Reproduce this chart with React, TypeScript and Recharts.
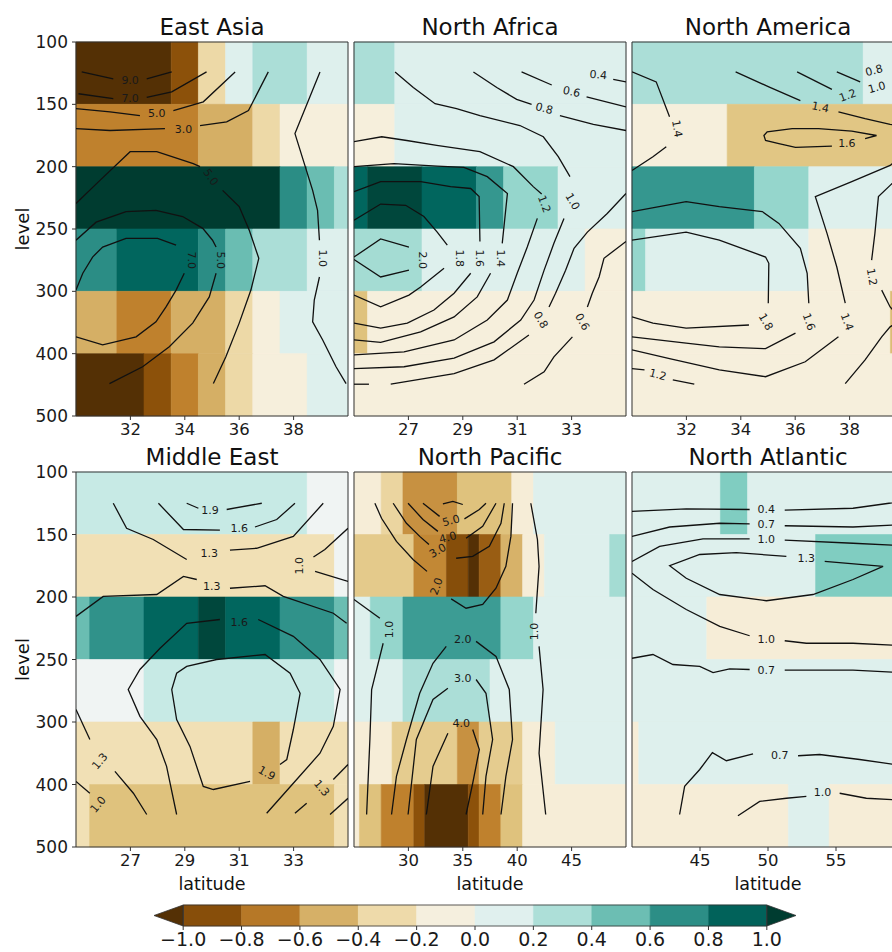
import React from 'react';
import { ComposedChart, XAxis, YAxis, ReferenceArea, Line, Scatter } from 'recharts';

const FONT = "'DejaVu Sans', 'Liberation Sans', sans-serif";

// pressure levels, drawn as equally spaced rows (index 0..6)
const levels = [100, 150, 200, 250, 300, 400, 500];
const levelIdx = [0, 1, 2, 3, 4, 5, 6];

// colorbar bounds
const cbarBounds = [-1.0, -0.8, -0.6, -0.4, -0.2, 0.0, 0.2, 0.4, 0.6, 0.8, 1.0];

// BrBG anchors
const brbgStops = ['#543005', '#8c510a', '#bf812d', '#dfc27d', '#f6e8c3', '#f5f5f5', '#c7eae5', '#80cdc1', '#35978f', '#01665e', '#003c30'];

// ---------- East Asia ----------
const eastAsiaLats = [30, 31, 32, 33, 34, 35, 36, 37, 38, 39, 40];
const eastAsiaCells = [
  [-1, -1, -1, -1, -0.8, -0.28, 0.1, 0.28, 0.28, 0.1, 0.1],
  [-0.6, -0.6, -0.6, -0.6, -0.6, -0.46, -0.46, -0.28, -0.1, -0.1, -0.1],
  [1, 1, 1, 1, 1, 1, 1, 1, 0.64, 0.46, 0.28],
  [0.64, 0.64, 0.8, 0.8, 0.8, 0.64, 0.46, 0.28, 0.28, 0.1, 0.1],
  [-0.46, -0.46, -0.6, -0.6, -0.46, -0.46, -0.28, -0.1, 0.1, 0.1, 0.1],
  [-1, -1, -1, -0.8, -0.6, -0.46, -0.28, -0.1, -0.1, 0.1, 0.1],
];
const eastAsiaLines = [
  [[30.21, 0.48], [31.37, 0.59]], [[32.6, 0.59], [33.52, 0.48]],
  [[30.09, 0.83], [31.37, 0.91]], [[32.6, 0.89], [33.52, 0.8], [34.8, 0.48]],
  [[30, 1.07], [31.25, 1.12], [32.35, 1.18]], [[33.58, 1.1], [34.68, 0.96], [35.85, 0.48]],
  [[30, 1.39], [31.25, 1.42], [33.27, 1.39]], [[34.56, 1.34], [35.54, 1.28], [36.34, 1.1], [37.07, 0.48]],
  [[30, 2.59], [30.88, 2.22], [31.99, 1.76], [32.97, 1.76], [34.31, 1.95], [34.56, 2.0]],
  [[35.39, 2.38], [36.0, 2.64], [36.37, 3.02], [36.72, 3.47], [36.43, 3.98], [36.0, 4.51], [35.51, 5.05], [35.05, 5.48]],
  [[30, 3.18], [30.74, 2.89], [31.84, 2.72], [32.94, 2.7], [33.92, 2.8], [34.66, 2.99], [35.02, 3.18], [35.15, 3.29]],
  [[35.15, 3.71], [34.9, 4.09], [34.29, 4.51], [33.43, 4.89], [32.45, 5.21], [31.23, 5.48]],
  [[30, 3.98], [30.25, 3.71], [30.61, 3.45], [30.98, 3.29], [31.84, 3.15], [33.0, 3.15], [33.68, 3.26]],
  [[33.98, 3.71], [33.68, 3.98], [33.31, 4.25], [32.94, 4.49], [32.21, 4.73], [30.98, 4.86], [30, 4.73]],
  [[38.97, 0.48], [38.05, 1.47], [38.7, 2.38], [38.88, 2.7], [38.95, 3.18]],
  [[38.95, 3.77], [38.76, 4.14], [38.7, 4.49], [39.07, 4.78], [39.56, 5.21], [39.93, 5.48]],
];
const eastAsiaLabels = [
  [31.99, 0.61, '9.0', 0], [31.99, 0.9, '7.0', 0], [32.97, 1.15, '5.0', 0], [33.95, 1.4, '3.0', 0],
  [34.95, 2.17, '5.0', 55], [35.33, 3.5, '5.0', 90], [34.23, 3.5, '7.0', 90], [39.07, 3.47, '1.0', 90],
];

// ---------- North Africa ----------
const northAfricaLats = [25, 26, 27, 28, 29, 30, 31, 32, 33, 34, 35];
const northAfricaCells = [
  [0.28, 0.28, 0.1, 0.1, 0.1, 0.1, 0.1, 0.1, 0.1, 0.1, 0.1],
  [-0.1, -0.1, 0.1, 0.1, 0.1, 0.1, 0.1, 0.1, 0.1, 0.1, 0.1],
  [0.8, 0.95, 0.95, 0.8, 0.8, 0.6, 0.34, 0.34, 0.1, 0.1, 0.1],
  [0.3, 0.3, 0.3, 0.1, 0.1, 0.1, 0.1, 0.1, 0.1, -0.1, -0.1],
  [-0.4, -0.1, -0.1, -0.1, -0.1, -0.1, -0.1, -0.1, -0.1, -0.1, -0.1],
  [-0.1, -0.1, -0.1, -0.1, -0.1, -0.1, -0.1, -0.1, -0.1, -0.1, -0.1],
];
const northAfricaLines = [
  [[25, 3.45], [25.98, 3.16], [27.02, 3.29]], [[27.02, 3.66], [25.98, 3.77], [25, 3.49]],
  [[25, 2.86], [25.98, 2.6], [26.9, 2.62], [27.57, 2.8], [28.06, 3.05], [28.43, 3.26]],
  [[28.31, 3.63], [27.45, 3.93], [27.02, 4.06], [25.98, 4.25], [25, 4.06]],
  [[25, 2.4], [25.98, 2.24], [27.45, 2.24], [28.55, 2.32], [29.29, 2.35], [29.6, 2.48], [29.63, 3.2]],
  [[29.29, 3.71], [28.68, 4.03], [27.94, 4.3], [26.96, 4.51], [25.98, 4.59], [25, 4.51]],
  [[25, 2.0], [26.47, 1.95], [28.06, 1.99], [29.04, 2.01], [29.9, 2.16], [30.64, 2.43], [30.45, 3.23]],
  [[30.02, 3.71], [29.53, 4.09], [28.68, 4.41], [27.45, 4.65], [25.98, 4.82], [25, 4.78]],
  [[25, 1.6], [26.02, 1.52], [26.94, 1.58], [28.04, 1.66], [29.63, 1.76], [30.86, 2.0], [31.59, 2.32], [31.9, 2.44]],
  [[31.74, 2.83], [31.37, 3.29], [31.0, 3.71], [30.64, 4.14], [29.9, 4.46], [28.68, 4.78], [26.84, 4.97], [25, 5.02]],
  [[26.51, 0.48], [27.18, 0.73], [27.98, 0.99], [28.77, 1.07], [29.63, 1.18], [31.1, 1.34], [31.96, 1.52], [32.51, 1.84], [32.94, 2.16]],
  [[32.72, 2.83], [32.35, 3.23], [31.99, 3.66], [31.62, 4.14], [31.13, 4.46], [30.15, 4.81], [28.68, 5.07], [26.84, 5.21], [25, 5.24]],
  [[35, 2.43], [34.31, 2.75], [33.58, 3.05], [33.09, 3.31], [32.78, 3.66], [32.41, 4.03], [32.17, 4.25]],
  [[31.43, 4.7], [30.15, 5.1], [28.68, 5.32], [26.35, 5.49]], [[25.55, 5.49], [25, 5.49]],
  [[35, 3.2], [34.19, 3.47], [34.01, 3.77], [33.76, 4.03], [33.58, 4.25]],
  [[33.03, 4.73], [32.35, 5.05], [31.99, 5.29], [31.25, 5.49]],
  [[29.39, 0.48], [30.25, 0.73], [30.98, 0.92], [31.53, 1.0]], [[32.57, 1.18], [33.8, 1.32], [35, 1.42]],
  [[31.16, 0.48], [32.27, 0.69]], [[33.55, 0.88], [35, 1.04]],
  [[34.53, 0.6], [35, 0.64]],
];
const northAfricaLabels = [
  [27.51, 3.5, '2.0', 90], [28.86, 3.47, '1.8', 90], [29.63, 3.47, '1.6', 90], [30.39, 3.47, '1.4', 90],
  [31.99, 2.6, '1.2', 70], [33.03, 2.56, '1.0', 60], [31.86, 4.46, '0.8', 60], [33.39, 4.49, '0.6', 60],
  [31.99, 1.07, '0.8', 15], [33.0, 0.8, '0.6', 12], [33.98, 0.53, '0.4', 5],
];

// ---------- North America ----------
const northAmericaLats = [30, 31, 32, 33, 34, 35, 36, 37, 38, 39, 40];
const northAmericaCells = [
  [0.28, 0.28, 0.28, 0.28, 0.28, 0.28, 0.28, 0.28, 0.28, 0.1, 0.1],
  [-0.1, -0.1, -0.1, -0.1, -0.38, -0.38, -0.38, -0.38, -0.38, -0.38, -0.38],
  [0.6, 0.6, 0.6, 0.6, 0.6, 0.34, 0.34, 0.1, 0.1, 0.1, 0.1],
  [0.34, 0.1, 0.1, 0.1, 0.1, 0.1, 0.1, -0.1, -0.1, -0.1, -0.1],
  [-0.1, -0.1, -0.1, -0.1, -0.1, -0.1, -0.1, -0.1, -0.1, -0.1, -0.42],
  [-0.1, -0.1, -0.1, -0.1, -0.1, -0.1, -0.1, -0.1, -0.1, -0.1, -0.1],
];
const northAmericaLines = [
  [[30, 3.18], [31.99, 3.05], [33.21, 3.18], [34.91, 3.45], [35.03, 3.55], [35.01, 4.19]],
  [[34.3, 4.54], [31.99, 4.59], [30.77, 4.51], [30, 4.41]],
  [[30, 2.72], [31.99, 2.56], [33.21, 2.64], [34.79, 2.72], [35.4, 2.91], [36.19, 3.31], [36.44, 3.71], [36.5, 4.19]],
  [[36.01, 4.67], [34.91, 4.92], [33.21, 4.89], [31.99, 4.83], [30, 4.73]],
  [[40, 1.8], [39.49, 1.98], [38.08, 2.24], [36.74, 2.48], [37.17, 3.07], [37.53, 3.61], [37.84, 4.19]],
  [[37.59, 4.73], [36.37, 5.13], [34.91, 5.37], [33.21, 5.26], [31.38, 5.08], [30, 4.94]],
  [[40, 2.1], [39.49, 2.3], [39.06, 2.48], [38.93, 3.07], [38.81, 3.5]],
  [[39.18, 3.98], [39.49, 4.25], [40, 4.5]],
  [[37.84, 5.48], [38.57, 5.1], [39.18, 4.73], [39.49, 4.57], [40, 4.42]],
  [[30, 5.24], [30.46, 5.26]], [[31.5, 5.42], [32.29, 5.49]],
  [[30, 0.48], [30.89, 0.64], [31.38, 1.2]], [[31.26, 1.68], [30.77, 1.84], [30, 2.06]],
  [[38.57, 1.55], [38.99, 1.5], [38.08, 1.43], [36.86, 1.39], [35.89, 1.39], [34.97, 1.44], [34.85, 1.5], [34.91, 1.58], [35.4, 1.63], [36.01, 1.69], [37.35, 1.67]],
  [[33.81, 0.48], [35.03, 0.72], [36.19, 0.94]], [[37.59, 1.12], [38.57, 1.23], [39.49, 1.32], [40, 1.36]],
  [[36.07, 0.48], [37.35, 0.76]],
  [[37.53, 0.48], [38.39, 0.64]],
];
const northAmericaLabels = [
  [34.91, 4.49, '1.8', 60], [36.5, 4.49, '1.6', 70], [37.9, 4.49, '1.4', 70], [38.81, 3.77, '1.2', 80],
  [30.95, 5.34, '1.2', 15], [31.65, 1.39, '1.4', 80], [37.9, 1.63, '1.6', 0], [36.92, 1.05, '1.4', 12],
  [37.93, 0.86, '1.2', -20], [38.9, 0.46, '0.8', -15], [39.0, 0.73, '1.0', -15],
];

// ---------- Middle East ----------
const middleEastLats = [25, 26, 27, 28, 29, 30, 31, 32, 33, 34, 35];
const middleEastCells = [
  [0.2, 0.2, 0.2, 0.2, 0.2, 0.2, 0.2, 0.2, 0.2, 0.02, 0.02],
  [-0.24, -0.24, -0.24, -0.24, -0.24, -0.24, -0.24, -0.24, -0.24, -0.24, 0.02],
  [0.46, 0.62, 0.62, 0.8, 0.8, 0.95, 0.8, 0.8, 0.62, 0.62, 0.46],
  [0.02, 0.02, 0.02, 0.2, 0.2, 0.2, 0.2, 0.2, 0.2, 0.2, 0.02],
  [-0.24, -0.24, -0.24, -0.24, -0.24, -0.24, -0.24, -0.46, -0.24, -0.24, -0.24],
  [-0.24, -0.4, -0.4, -0.4, -0.4, -0.4, -0.4, -0.4, -0.4, -0.4, -0.24],
];
const middleEastLines = [
  [[29.07, 0.5], [29.5, 0.58]], [[30.54, 0.6], [31.83, 0.5]],
  [[28.03, 0.5], [28.95, 0.92], [30.29, 0.93]], [[31.58, 0.88], [32.38, 0.76], [33.05, 0.5]],
  [[26.37, 0.5], [26.86, 0.9], [27.84, 1.08], [29.07, 1.4]], [[30.66, 1.25], [31.64, 1.22], [32.99, 1.03], [34.09, 0.5]],
  [[25, 2.31], [26.0, 1.99], [27.97, 1.96], [28.95, 1.67], [29.44, 1.72]],
  [[30.66, 1.86], [31.95, 1.82], [32.62, 1.99], [34.46, 2.26], [34.95, 2.42]],
  [[35, 0.9], [34.15, 1.24], [33.73, 1.36]], [[33.79, 1.59], [35, 1.75]],
  [[28.7, 5.48], [28.33, 4.71], [27.97, 4.28], [27.35, 3.91], [26.92, 3.48], [27.35, 3.16], [28.09, 2.82], [29.07, 2.42], [30.29, 2.36]],
  [[31.7, 2.36], [32.99, 2.63], [33.97, 3.0], [34.71, 3.48], [34.46, 4.07], [33.97, 4.5], [32.99, 4.98], [32.01, 5.46]],
  [[31.4, 4.95], [30.05, 5.08], [29.68, 5.03], [29.19, 4.39], [28.7, 3.96], [28.52, 3.48], [28.7, 3.22], [29.07, 3.11], [30.17, 3.0], [31.95, 2.92], [32.87, 3.22], [33.24, 3.54], [32.99, 4.12], [32.75, 4.6], [32.5, 4.68]],
  [[25, 3.8], [25.51, 4.28]], [[26.43, 4.79], [27.11, 5.14], [27.6, 5.48]],
  [[25, 4.95], [25.51, 5.14]],
  [[35, 4.68], [34.46, 4.92]], [[33.48, 5.3], [33.05, 5.46]],
  [[35, 5.22], [34.34, 5.48]],
];
const middleEastLabels = [
  [29.93, 0.61, '1.9', 0], [31.0, 0.9, '1.6', 0], [29.9, 1.3, '1.3', 0], [29.99, 1.83, '1.3', 0],
  [33.21, 1.5, '1.0', -90], [31.0, 2.4, '1.6', 0], [32.01, 4.82, '1.9', 30],
  [25.88, 4.63, '1.3', -50], [25.82, 5.32, '1.0', -50], [34.03, 5.06, '1.3', 50],
];

// ---------- North Pacific ----------
const northPacificLats = [25, 26, 27, 28, 29, 30, 31, 32, 33, 34, 35, 36, 37, 38, 39, 40, 41, 42, 43, 44, 45, 46, 47, 48, 49, 50];
const northPacificCells = [
  [-0.12, -0.12, -0.12, -0.3, -0.3, -0.55, -0.55, -0.55, -0.55, -0.55, -0.4, -0.4, -0.4, -0.4, -0.4, -0.12, -0.12, 0.1, 0.1, 0.1, 0.1, 0.1, 0.1, 0.1, 0.1, 0.1],
  [-0.36, -0.36, -0.36, -0.36, -0.36, -0.36, -0.58, -0.58, -0.58, -0.82, -0.82, -1, -0.75, -0.75, -0.45, -0.45, -0.12, -0.12, 0.1, 0.1, 0.1, 0.1, 0.1, 0.1, 0.3, 0.3],
  [0.1, 0.1, 0.34, 0.34, 0.34, 0.58, 0.58, 0.58, 0.58, 0.58, 0.58, 0.58, 0.58, 0.58, 0.34, 0.34, 0.34, 0.1, 0.1, 0.1, 0.1, 0.1, 0.1, 0.1, 0.1, 0.1],
  [0.1, 0.1, 0.1, 0.1, 0.1, 0.28, 0.28, 0.28, 0.28, 0.28, 0.28, 0.28, 0.28, 0.1, 0.1, 0.1, 0.1, 0.1, 0.1, 0.1, 0.1, 0.1, 0.1, 0.1, 0.1, 0.1],
  [-0.12, -0.12, -0.12, -0.12, -0.35, -0.35, -0.35, -0.35, -0.35, -0.35, -0.55, -0.55, -0.35, -0.35, -0.35, -0.35, -0.12, -0.12, -0.12, 0.1, 0.1, 0.1, 0.1, 0.1, 0.1, 0.1],
  [-0.12, -0.4, -0.4, -0.6, -0.6, -0.6, -0.8, -1, -1, -1, -1, -0.8, -0.6, -0.6, -0.4, -0.4, -0.12, -0.12, -0.12, -0.12, -0.12, -0.12, -0.12, -0.12, -0.12, -0.12],
];
const northPacificLines = [
  [[26.92, 0.5], [27.53, 0.74], [28.9, 1.11], [30.43, 1.4], [31.71, 1.59]],
  [[33.93, 2.03], [35.3, 2.18], [36.83, 2.12], [38.05, 1.86], [38.96, 1.51], [39.42, 1.03], [39.57, 0.5]],
  [[28.6, 0.5], [29.82, 0.82], [31.04, 1.03], [31.89, 1.16]], [[34.39, 1.38], [35.91, 1.35], [37.44, 1.19], [38.51, 0.82], [38.81, 0.5]],
  [[29.97, 0.5], [31.34, 0.76], [32.71, 0.95]], [[35.3, 1.06], [36.83, 0.87], [38.05, 0.5]],
  [[31.34, 0.5], [32.87, 0.71]], [[35.15, 0.75], [36.52, 0.6], [37.13, 0.5]],
  [[33.17, 0.51], [34.09, 0.47], [35.0, 0.52]],
  [[41.25, 0.5], [41.86, 1.08], [42.01, 1.51], [41.71, 2.26]], [[42.01, 2.79], [42.38, 3.48], [42.01, 4.5], [42.62, 5.48]],
  [[25, 2.04], [27.38, 2.34]], [[27.68, 2.74], [26.62, 3.48], [26.46, 4.28], [26.16, 5.48]],
  [[28.45, 5.48], [28.9, 4.87], [29.82, 4.28], [31.04, 3.54], [32.26, 3.06], [33.48, 2.79]],
  [[36.22, 2.71], [38.05, 2.95], [39.27, 3.48], [39.57, 4.28], [38.96, 4.87], [38.51, 5.48]],
  [[29.97, 5.48], [30.73, 4.28], [32.26, 3.64], [33.63, 3.46]], [[36.22, 3.32], [37.13, 3.54], [37.74, 4.28], [37.13, 4.87], [36.83, 5.48]],
  [[31.65, 5.48], [32.26, 4.71], [33.63, 4.18]], [[35.91, 4.12], [36.52, 4.44], [35.91, 4.98], [35.3, 5.48]],
];
const northPacificLabels = [
  [32.6, 1.83, '2.0', -70], [32.7, 1.26, '3.0', -30], [33.63, 1.05, '4.0', -15], [33.93, 0.78, '5.0', -15],
  [41.55, 2.55, '1.0', -90], [28.3, 2.52, '1.0', -90], [35.0, 2.68, '2.0', 0], [35.0, 3.3, '3.0', 0], [34.85, 4.02, '4.0', 0],
];

// ---------- North Atlantic ----------
const northAtlanticLats = [40, 41, 42, 43, 44, 45, 46, 47, 48, 49, 50, 51, 52, 53, 54, 55, 56, 57, 58, 59, 60];
const northAtlanticCells = [
  [0.1, 0.1, 0.1, 0.1, 0.1, 0.1, 0.1, 0.4, 0.4, 0.1, 0.1, 0.1, 0.1, 0.1, 0.1, 0.1, 0.1, 0.1, 0.1, 0.1, 0.1],
  [0.1, 0.1, 0.1, 0.1, 0.1, 0.1, 0.1, 0.1, 0.1, 0.1, 0.1, 0.1, 0.1, 0.1, 0.4, 0.4, 0.4, 0.4, 0.4, 0.4, 0.4],
  [0.1, 0.1, 0.1, 0.1, 0.1, 0.1, -0.12, -0.12, -0.12, -0.12, -0.12, -0.12, -0.12, -0.12, -0.12, -0.12, -0.12, -0.12, -0.12, -0.12, -0.12],
  [0.1, 0.1, 0.1, 0.1, 0.1, 0.1, 0.1, 0.1, 0.1, 0.1, 0.1, 0.1, 0.1, 0.1, 0.1, 0.1, 0.1, 0.1, 0.1, 0.1, 0.1],
  [-0.12, 0.1, 0.1, 0.1, 0.1, 0.1, 0.1, 0.1, 0.1, 0.1, 0.1, 0.1, 0.1, 0.1, 0.1, 0.1, 0.1, 0.1, 0.1, 0.1, 0.1],
  [-0.12, -0.12, -0.12, -0.12, -0.12, -0.12, -0.12, -0.12, -0.12, -0.12, -0.12, -0.12, 0.1, 0.1, 0.1, -0.12, -0.12, -0.12, -0.12, -0.12, -0.12],
];
const northAtlanticLines = [
  [[40, 0.63], [43.99, 0.59], [48.65, 0.6]], [[51.23, 0.61], [56.25, 0.58], [58.9, 0.5], [60, 0.47]],
  [[40, 1.03], [42.77, 0.88], [46.45, 0.82], [48.65, 0.83]], [[51.23, 0.86], [56.25, 0.88], [60, 0.84]],
  [[40, 1.43], [42.03, 1.19], [45.22, 1.07], [48.65, 1.07]], [[51.23, 1.09], [56.25, 1.14], [60, 1.18]],
  [[51.35, 1.35], [47.67, 1.29], [44.98, 1.32], [42.77, 1.5], [43.99, 1.7], [46.45, 1.96], [49.88, 2.06], [53.31, 1.96], [56.25, 1.72], [58.46, 1.51], [54.17, 1.43]],
  [[40, 1.62], [41.54, 1.88], [43.99, 2.2], [46.45, 2.47], [48.65, 2.62]], [[51.23, 2.7], [52.82, 2.74], [56.25, 2.74], [60, 2.78]],
  [[40, 2.98], [41.54, 2.92], [43.01, 3.08], [44.98, 3.11], [45.96, 3.21], [47.18, 3.15], [48.65, 3.16]], [[51.23, 3.17], [56.25, 3.17], [60, 3.21]],
  [[43.5, 5.48], [43.87, 5.03], [44.98, 4.76], [45.91, 4.49], [46.94, 4.62], [48.9, 4.51]], [[52.21, 4.54], [53.8, 4.52], [56.74, 4.6], [60, 4.7]],
  [[47.79, 5.5], [49.39, 5.27], [51.35, 5.22], [52.82, 5.19]], [[55.27, 5.14], [57.23, 5.22], [60, 5.25]],
];
const northAtlanticLabels = [
  [49.88, 0.6, '0.4', 0], [49.88, 0.84, '0.7', 0], [49.88, 1.08, '1.0', 0], [52.82, 1.39, '1.3', 0],
  [49.88, 2.68, '1.0', 0], [49.88, 3.17, '0.7', 0], [50.86, 4.54, '0.7', 0], [54.0, 5.13, '1.0', 0],
];

const panels = [
  { title: 'East Asia', lats: eastAsiaLats, cells: eastAsiaCells, lines: eastAsiaLines, labels: eastAsiaLabels, ticks: [32, 34, 36, 38], left: 76, top: 42, h: 374, showY: true, xLabel: false },
  { title: 'North Africa', lats: northAfricaLats, cells: northAfricaCells, lines: northAfricaLines, labels: northAfricaLabels, ticks: [27, 29, 31, 33], left: 354, top: 42, h: 374, showY: false, xLabel: false },
  { title: 'North America', lats: northAmericaLats, cells: northAmericaCells, lines: northAmericaLines, labels: northAmericaLabels, ticks: [32, 34, 36, 38], left: 632, top: 42, h: 374, showY: false, xLabel: false },
  { title: 'Middle East', lats: middleEastLats, cells: middleEastCells, lines: middleEastLines, labels: middleEastLabels, ticks: [27, 29, 31, 33], left: 76, top: 472, h: 375, showY: true, xLabel: true },
  { title: 'North Pacific', lats: northPacificLats, cells: northPacificCells, lines: northPacificLines, labels: northPacificLabels, ticks: [30, 35, 40, 45], left: 354, top: 472, h: 375, showY: false, xLabel: true },
  { title: 'North Atlantic', lats: northAtlanticLats, cells: northAtlanticCells, lines: northAtlanticLines, labels: northAtlanticLabels, ticks: [45, 50, 55], left: 632, top: 472, h: 375, showY: false, xLabel: true },
];

function hexToRgb(h: string) {
  return [parseInt(h.slice(1, 3), 16), parseInt(h.slice(3, 5), 16), parseInt(h.slice(5, 7), 16)];
}

function brbgAt(t: number) {
  const tt = Math.max(0, Math.min(1, t)) * (brbgStops.length - 1);
  const i = Math.min(brbgStops.length - 2, Math.floor(tt));
  const f = tt - i;
  const a = hexToRgb(brbgStops[i]);
  const b = hexToRgb(brbgStops[i + 1]);
  const c = a.map((v, k) => Math.round(v + (b[k] - v) * f));
  return `rgb(${c[0]},${c[1]},${c[2]})`;
}

const brbg = (v: number) => brbgAt((v + 1) / 2);

function cellAreas(lats: number[], rows: number[][]) {
  const lo = lats[0];
  const hi = lats[lats.length - 1];
  const out: { x1: number; x2: number; y1: number; y2: number; v: number }[] = [];
  rows.forEach((row, r) => {
    let start = 0;
    for (let i = 1; i <= row.length; i++) {
      if (i === row.length || row[i] !== row[start]) {
        out.push({ x1: Math.max(lo, lats[start] - 0.5), x2: Math.min(hi, lats[i - 1] + 0.5), y1: r, y2: r + 1, v: row[start] });
        start = i;
      }
    }
  });
  return out;
}

const renderLabel = (props: any) => {
  const { cx, cy, payload } = props;
  return (
    <text x={cx} y={cy} transform={`rotate(${payload.a} ${cx} ${cy})`} textAnchor="middle" dominantBaseline="central"
      fontSize={11} fill="#1a1a1a" fontFamily={FONT}>
      {payload.t}
    </text>
  );
};

const tickStyle = { fontSize: 16.5, fill: '#1a1a1a', fontFamily: FONT };

function Panel({ p }: { p: any }) {
  const L = 76, T = 42, R = 6, B = 60;
  const lo = p.lats[0];
  const hi = p.lats[p.lats.length - 1];
  const areas = cellAreas(p.lats, p.cells);
  const labelData = p.labels.map(([x, y, t, a]: any) => ({ x, y, t, a }));
  return (
    <div style={{ position: 'absolute', left: p.left - L, top: p.top - T }}>
      <ComposedChart width={272 + L + R} height={p.h + T + B} margin={{ top: T, right: R, bottom: 0, left: p.showY ? 0 : L }}>
        <XAxis type="number" dataKey="x" domain={[lo, hi]} ticks={p.ticks} interval={0} allowDataOverflow height={B}
          tickSize={4} tickMargin={3} axisLine={false} tickLine={{ stroke: '#333' }} tick={tickStyle} />
        <YAxis type="number" dataKey="y" domain={[0, 6]} reversed ticks={levelIdx} interval={0} allowDataOverflow
          tickFormatter={(i: number) => String(levels[i])} hide={!p.showY} width={L}
          tickSize={4} tickMargin={4} axisLine={false} tickLine={{ stroke: '#333' }} tick={{ ...tickStyle, fontSize: 17 }} />
        {areas.map((c, k) => (
          <ReferenceArea key={`c${k}`} x1={c.x1} x2={c.x2} y1={c.y1} y2={c.y2} fill={brbg(c.v)} fillOpacity={1}
            stroke={brbg(c.v)} strokeWidth={0.6} ifOverflow="visible" />
        ))}
        {p.lines.map((seg: number[][], k: number) => (
          <Line key={`l${k}`} data={seg.map(([x, y]) => ({ x, y }))} dataKey="y" type="linear" stroke="#111"
            strokeWidth={1.3} dot={false} activeDot={false} isAnimationActive={false} />
        ))}
        <Scatter data={labelData} shape={renderLabel} isAnimationActive={false} />
        <ReferenceArea x1={lo} x2={hi} y1={0} y2={6} fill="none" stroke="#333" strokeWidth={1} ifOverflow="visible" />
      </ComposedChart>
    </div>
  );
}

function Colorbar() {
  const L = 10, T = 2, R = 10, B = 40;
  const colors = cbarBounds.slice(0, -1).map((_, i) => brbgAt((i + 1) / 11));
  const under = brbgAt(0);
  const over = brbgAt(1);
  const binCenters = cbarBounds.slice(0, -1).map((b, i) => ({ x: (b + cbarBounds[i + 1]) / 2, y: 0.5 }));
  const tri = (dir: number, fill: string) => (props: any) => {
    const { x, y, width, height } = props;
    const pts = dir < 0
      ? `${x},${y + height / 2} ${x + width},${y} ${x + width},${y + height}`
      : `${x},${y} ${x + width},${y + height / 2} ${x},${y + height}`;
    return <polygon points={pts} fill={fill} stroke="#333" strokeWidth={0.8} />;
  };
  return (
    <div style={{ position: 'absolute', left: 154 - L, top: 905 - T }}>
      <ComposedChart width={642 + L + R} height={21 + T + B} margin={{ top: T, right: R, bottom: 0, left: L }}>
        <XAxis type="number" dataKey="x" domain={[-1.1, 1.1]} ticks={cbarBounds} interval={0} allowDataOverflow height={B}
          tickSize={4} tickMargin={3} axisLine={false} tickLine={{ stroke: '#333' }}
          tickFormatter={(v: number) => v.toFixed(1).replace('-', '\u2212')}
          tick={{ fontSize: 19, fill: '#1a1a1a', fontFamily: FONT }} />
        <YAxis type="number" dataKey="y" domain={[0, 1]} allowDataOverflow hide />
        <Scatter data={binCenters} shape={() => <g />} isAnimationActive={false} />
        {colors.map((c, i) => (
          <ReferenceArea key={i} x1={cbarBounds[i]} x2={cbarBounds[i + 1]} y1={0} y2={1} fill={c} fillOpacity={1}
            stroke={c} strokeWidth={0.5} ifOverflow="visible" />
        ))}
        <ReferenceArea x1={-1.1} x2={-1.0} y1={0} y2={1} ifOverflow="visible" shape={tri(-1, under)} />
        <ReferenceArea x1={1.0} x2={1.1} y1={0} y2={1} ifOverflow="visible" shape={tri(1, over)} />
        <ReferenceArea x1={-1.0} x2={1.0} y1={0} y2={1} fill="none" stroke="#333" strokeWidth={0.8} ifOverflow="visible" />
      </ComposedChart>
    </div>
  );
}

export default function App() {
  return (
    <div style={{ position: 'absolute', left: 0, top: 0, width: 892, height: 952, overflow: 'hidden', background: '#fff', fontFamily: FONT }}>
      {panels.map((p) => <Panel key={p.title} p={p} />)}
      <Colorbar />
      <svg width={892} height={952} style={{ position: 'absolute', left: 0, top: 0, pointerEvents: 'none' }}>
        {panels.map((p) => (
          <text key={p.title} x={p.left + 136} y={p.top - 7} textAnchor="middle" fontSize={23} fill="#111" fontFamily={FONT}>
            {p.title}
          </text>
        ))}
        {panels.filter((p) => p.showY).map((p) => (
          <text key={`lv${p.title}`} transform={`translate(28.5 ${p.top + p.h / 2}) rotate(-90)`} textAnchor="middle"
            fontSize={18} fill="#111" fontFamily={FONT}>
            level
          </text>
        ))}
        {panels.filter((p) => p.xLabel).map((p) => (
          <text key={`lat${p.title}`} x={p.left + 136} y={890} textAnchor="middle" fontSize={17.5} fill="#111" fontFamily={FONT}>
            latitude
          </text>
        ))}
      </svg>
    </div>
  );
}
